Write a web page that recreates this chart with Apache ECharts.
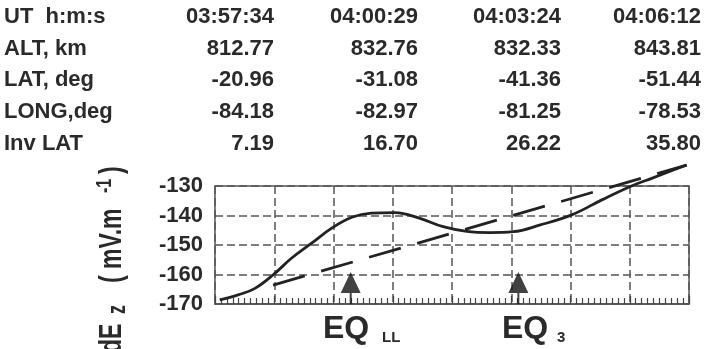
<!DOCTYPE html>
<html>
<head>
<meta charset="utf-8">
<script src="https://cdn.jsdelivr.net/npm/echarts@6/dist/echarts.min.js"></script>
<style>
  html, body { margin: 0; padding: 0; background: #fff; }
  #chart { width: 705px; height: 349px; }
</style>
</head>
<body>
<div id="chart"></div>
<script>
// ---- Table data ----
const rowLabels = ['UT  h:m:s', 'ALT, km', 'LAT, deg', 'LONG,deg', 'Inv LAT'];
const utTimes = ['03:57:34', '04:00:29', '04:03:24', '04:06:12'];
const altKm = ['812.77', '832.76', '832.33', '843.81'];
const latDeg = ['-20.96', '-31.08', '-41.36', '-51.44'];
const longDeg = ['-84.18', '-82.97', '-81.25', '-78.53'];
const invLat = ['7.19', '16.70', '26.22', '35.80'];

// ---- Axis ----
const yTicks = [-170, -160, -150, -140, -130];
const xMin = 0, xMax = 8;

// ---- Series values (x in grid units, y in mV/m) ----
const solidX = [0.08, 0.39, 0.675, 1.01, 1.29, 1.63, 1.97, 2.31, 2.64, 3.04, 3.46, 3.85, 4.25, 4.64, 5.03, 5.49, 6.02, 6.53, 7.03, 7.37, 7.96];
const solidY = [-168.6, -166.9, -164.7, -159.6, -154.5, -149.4, -144.3, -140.6, -139.2, -139.0, -141.0, -143.8, -145.4, -145.8, -145.5, -143.2, -139.8, -134.7, -130.0, -127.4, -122.9];
const dashX = [0.98, 7.96];
const dashY = [-163.6, -122.9];

// ---- EQ markers ----
const eqX = [2.29, 5.12];
const eqNames = ['EQ', 'EQ'];
const eqSubs = ['LL', '3'];

const FONT = '"Liberation Sans", Arial, Helvetica, sans-serif';
const TXT = '#2a2a2a';

const chart = echarts.init(document.getElementById('chart'), null, { renderer: 'canvas' });

const tableCols = [utTimes, altKm, latDeg, longDeg, invLat];
const rowY = [17, 48.5, 80, 111.5, 143.5];
const colRight = [274, 418, 561, 701];

const graphics = [];
rowLabels.forEach((lab, r) => {
  graphics.push({ type: 'text', x: 4, y: rowY[r], silent: true,
    style: { text: lab, font: 'bold 22px ' + FONT, fill: TXT, align: 'left', verticalAlign: 'middle', textAlign: 'left', textVerticalAlign: 'middle' } });
  tableCols[r].forEach((v, c) => {
    graphics.push({ type: 'text', x: colRight[c], y: rowY[r], silent: true,
      style: { text: v, font: 'bold 22px ' + FONT, fill: TXT, align: 'right', verticalAlign: 'middle', textAlign: 'right', textVerticalAlign: 'middle' } });
  });
});

// y-axis name pieces (rotated)
function rotText(text, x, y, size, sy) {
  return { type: 'text', x: x, y: y, rotation: Math.PI / 2, scaleX: 1, scaleY: sy, silent: true,
    style: { text: text, font: 'bold ' + size + 'px ' + FONT, fill: TXT, align: 'left', verticalAlign: 'middle', textAlign: 'left', textVerticalAlign: 'middle' } };
}
graphics.push(rotText('dE', 112, 353, 23, 1.4));
graphics.push(rotText('z', 118, 314, 18, 1.4));
graphics.push(rotText('( mV.m', 112, 283, 23, 1.4));
graphics.push(rotText('-1', 105, 193, 16, 1.4));
graphics.push(rotText(')', 112, 174, 23, 1.4));

// EQ labels
const eqLabelPos = [[323, 382], [502, 557]];
eqNames.forEach((n, i) => {
  graphics.push({ type: 'text', x: eqLabelPos[i][0], y: 329, silent: true,
    style: { text: n, font: 'bold 32px ' + FONT, fill: TXT, align: 'left', verticalAlign: 'middle', textAlign: 'left', textVerticalAlign: 'middle' } });
  graphics.push({ type: 'text', x: eqLabelPos[i][1], y: 338, silent: true,
    style: { text: eqSubs[i], font: 'bold 15px ' + FONT, fill: TXT, align: 'left', verticalAlign: 'middle', textAlign: 'left', textVerticalAlign: 'middle' } });
});

const option = {
  animation: false,
  backgroundColor: '#fff',
  grid: { left: 215, right: 16, top: 186, bottom: 45, show: true, borderColor: '#555', borderWidth: 1.5, backgroundColor: 'transparent' },
  xAxis: {
    type: 'value', min: xMin, max: xMax, interval: 1,
    axisLine: { show: true, lineStyle: { color: '#555', width: 1.5 } },
    axisTick: { show: true, inside: true, length: 8, lineStyle: { color: '#444', width: 1.3 } },
    minorTick: { show: true, splitNumber: 10, length: 6, lineStyle: { color: '#444', width: 1.2 } },
    axisLabel: { show: false },
    splitLine: { show: true, lineStyle: { color: '#555', width: 1.5, type: [8, 4] } }
  },
  yAxis: {
    type: 'value', min: yTicks[0], max: yTicks[yTicks.length - 1], interval: 10,
    axisLine: { show: false },
    axisTick: { show: false },
    axisLabel: { show: true, margin: 12, color: TXT, fontSize: 22, fontWeight: 'bold', fontFamily: FONT },
    splitLine: { show: true, lineStyle: { color: '#555', width: 1.5, type: [8, 4] } }
  },
  series: [
    {
      type: 'line', name: 'solid', smooth: 0.4, clip: false, showSymbol: false, symbol: 'none',
      data: solidX.map((x, i) => [x, solidY[i]]),
      lineStyle: { color: '#222', width: 2.8 }, z: 5
    },
    {
      type: 'line', name: 'dashed', smooth: false, clip: false, showSymbol: false, symbol: 'none',
      data: dashX.map((x, i) => [x, dashY[i]]),
      lineStyle: { color: '#222', width: 2.8, type: [33, 17] }, z: 4
    },
    {
      type: 'scatter', name: 'EQ', silent: true,
      symbol: 'path://M10,0 L20,21 L0,21 Z M9,21 L11,21 L11,32 L9,32 Z',
      symbolSize: [20, 32], symbolOffset: [0, -16],
      itemStyle: { color: '#111' },
      data: eqX.map(x => [x, yTicks[0]]), z: 6
    }
  ],
  graphic: graphics
};
chart.setOption(option);
</script>
</body>
</html>
